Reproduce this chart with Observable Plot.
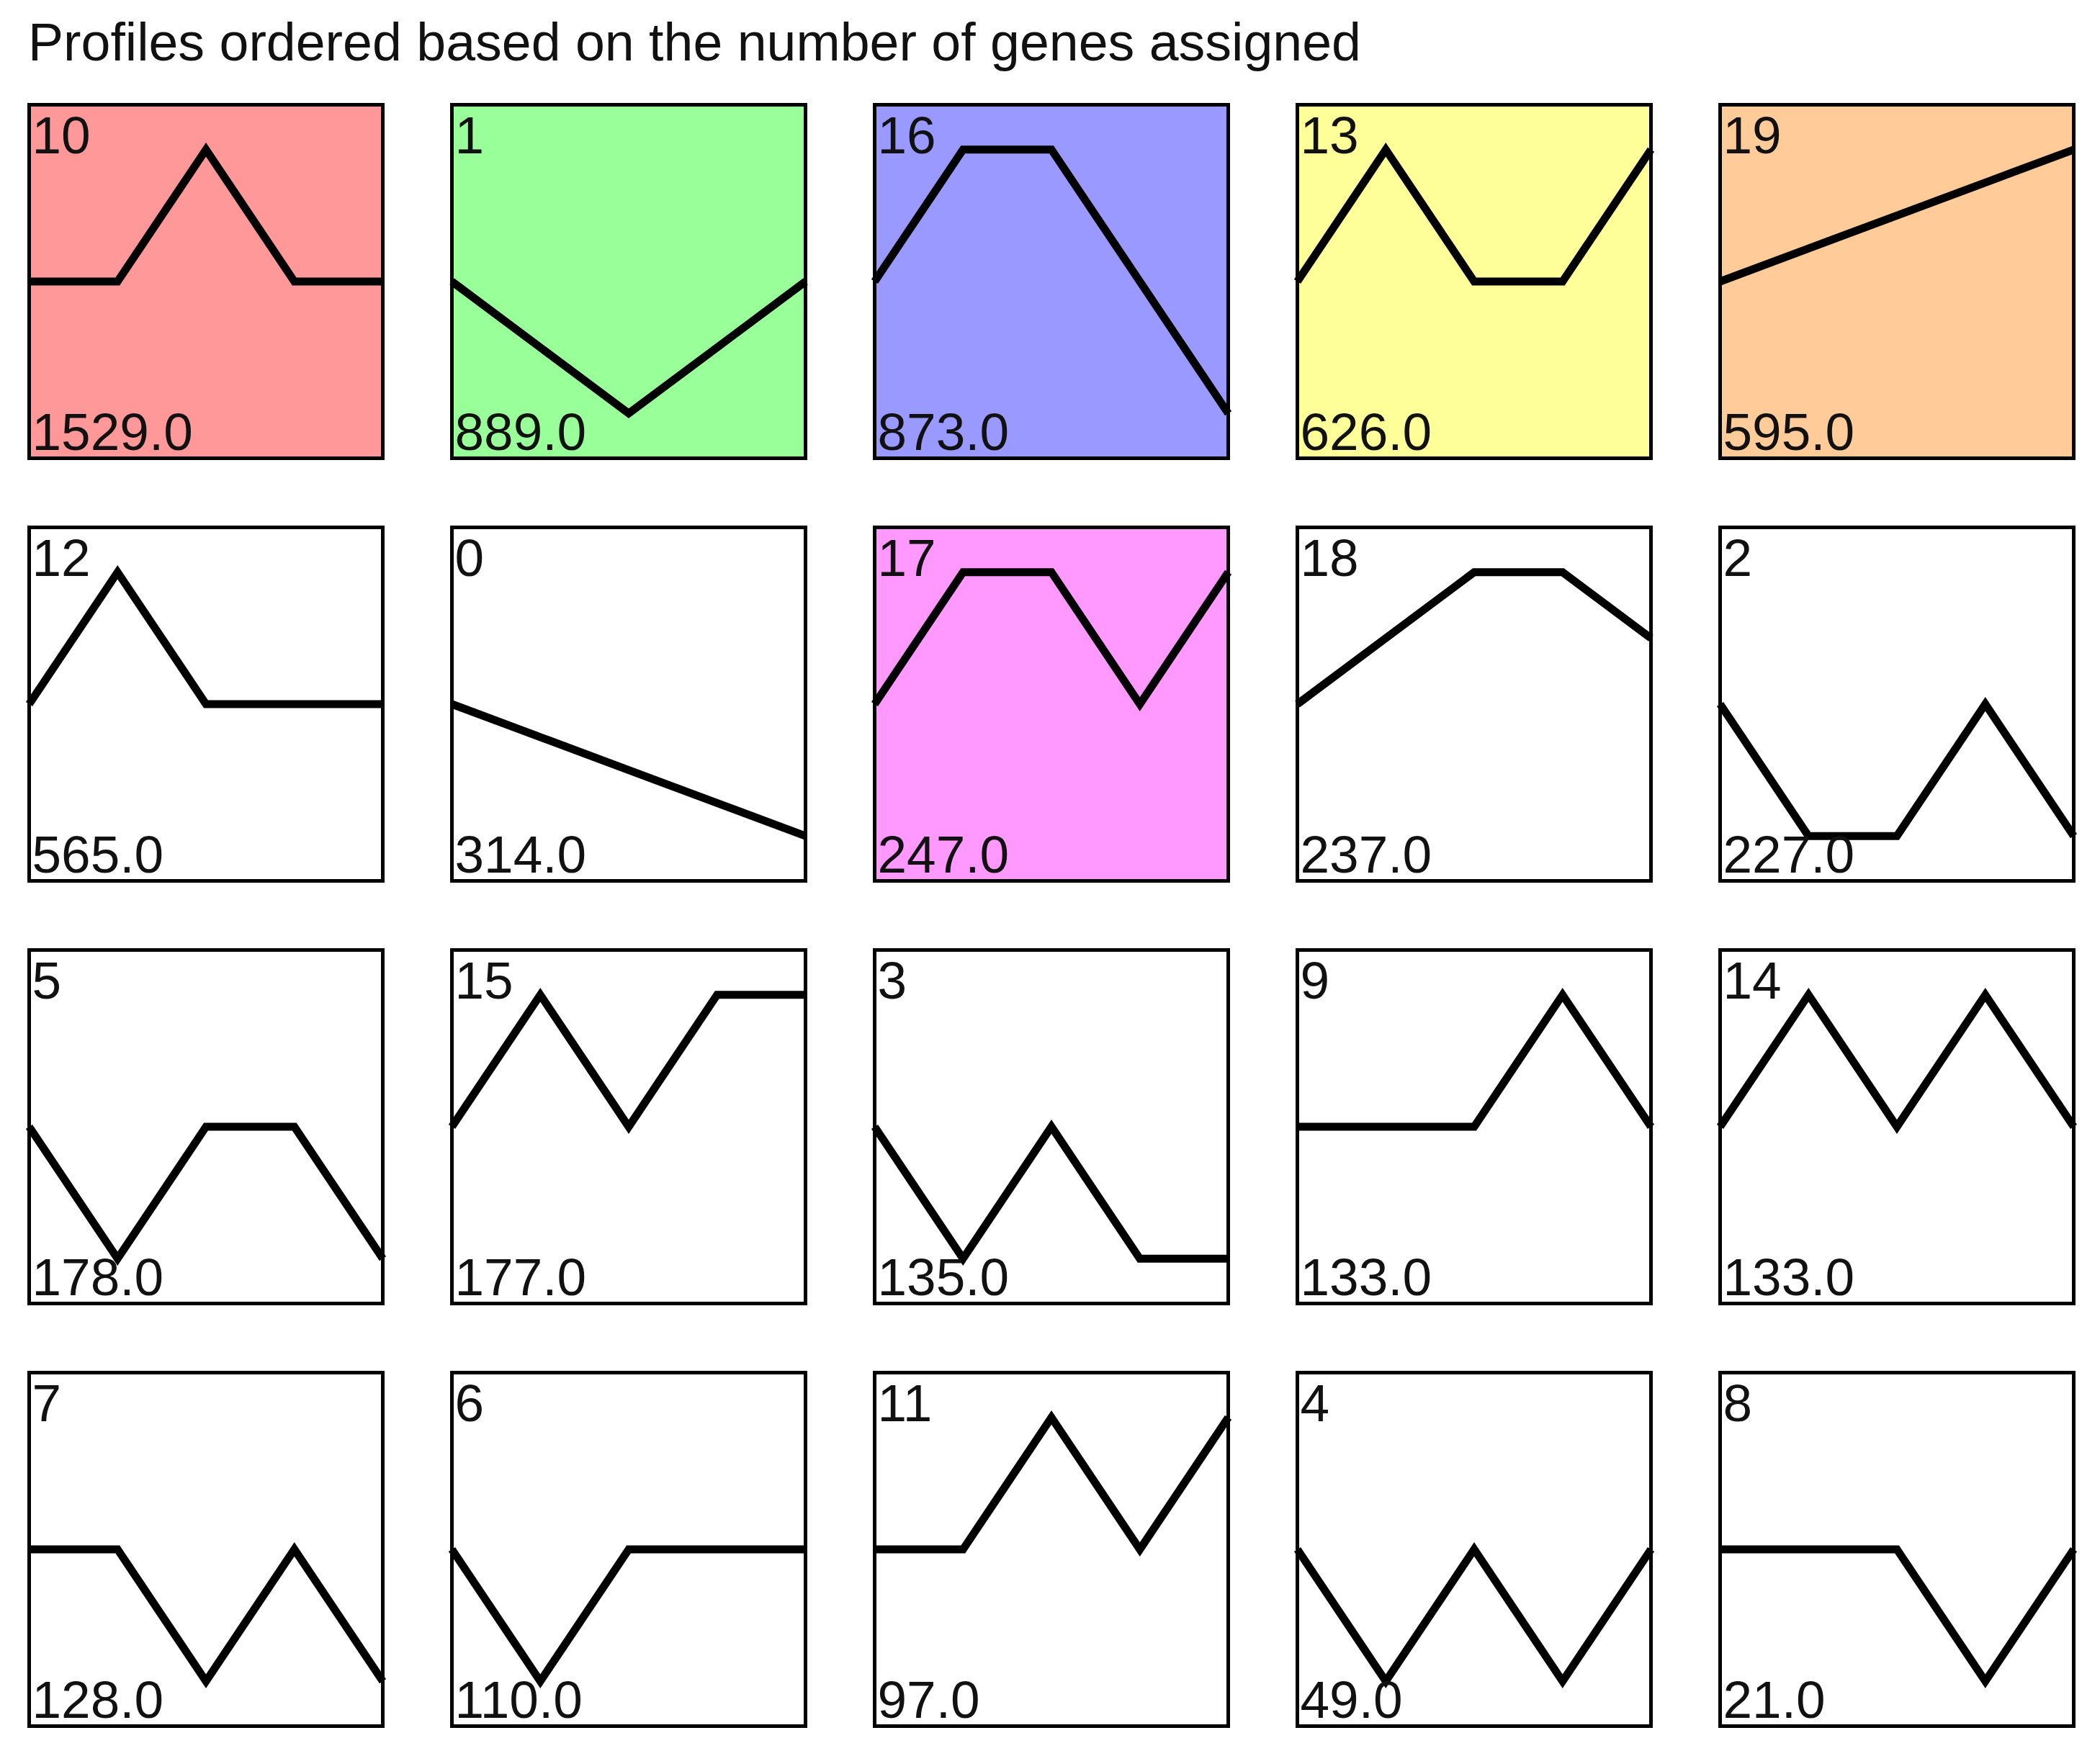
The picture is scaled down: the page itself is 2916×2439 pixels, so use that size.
<!DOCTYPE html>
<html>
<head>
<meta charset="utf-8">
<script src="https://cdn.jsdelivr.net/npm/d3@7"></script>
<script src="https://cdn.jsdelivr.net/npm/@observablehq/plot@0.6"></script>
<style>
  html, body { margin: 0; padding: 0; background: #fff; }
  #title {
    font-family: "Liberation Sans", Arial, sans-serif;
    font-size: 73.5px;
    line-height: 118px;
    height: 120px;
    padding-left: 39px;
    color: #111;
    white-space: nowrap;
  }
  #chart svg { display: block; }
</style>
</head>
<body>
<div id="title">Profiles ordered based on the number of genes assigned</div>
<div id="chart"></div>
<script>
// Profile ids in display order (row by row)
const profileIds = [10, 1, 16, 13, 19, 12, 0, 17, 18, 2, 5, 15, 3, 9, 14, 7, 6, 11, 4, 8];
// Number of genes assigned to each profile
const geneCounts = [1529, 889, 873, 626, 595, 565, 314, 247, 237, 227, 178, 177, 135, 133, 133, 128, 110, 97, 49, 21];
// Time points
const timePoints = [0, 1, 2, 3, 4];
// Profile values (normalised units) at each time point
const profileValues = [
  [0, 0, 2, 0, 0],
  [0, -1, -2, -1, 0],
  [0, 2, 2, 0, -2],
  [0, 2, 0, 0, 2],
  [0, 0.5, 1, 1.5, 2],
  [0, 2, 0, 0, 0],
  [0, -0.5, -1, -1.5, -2],
  [0, 2, 2, 0, 2],
  [0, 1, 2, 2, 1],
  [0, -2, -2, 0, -2],
  [0, -2, 0, 0, -2],
  [0, 2, 0, 2, 2],
  [0, -2, 0, -2, -2],
  [0, 0, 0, 2, 0],
  [0, 2, 0, 2, 0],
  [0, 0, -2, 0, -2],
  [0, -2, 0, 0, 0],
  [0, 0, 2, 0, 2],
  [0, -2, 0, -2, 0],
  [0, 0, 0, -2, 0]
];
// Background colour of each profile panel
const fillColors = [
  "#ff9999", "#99ff99", "#9999ff", "#ffff99", "#ffcc99",
  "#ffffff", "#ffffff", "#ff99ff", "#ffffff", "#ffffff",
  "#ffffff", "#ffffff", "#ffffff", "#ffffff", "#ffffff",
  "#ffffff", "#ffffff", "#ffffff", "#ffffff", "#ffffff"
];
const nCols = 5;
const yLim = 2.68;

const profiles = profileIds.map((id, i) => ({
  id,
  count: geneCounts[i],
  label: geneCounts[i].toFixed(1),
  fill: fillColors[i],
  col: i % nCols,
  row: Math.floor(i / nCols)
}));
const points = profiles.flatMap((p, i) =>
  timePoints.map((t, j) => ({id: p.id, col: p.col, row: p.row, t, v: profileValues[i][j]}))
);

const font = '"Liberation Sans", Arial, sans-serif';
const chart = Plot.plot({
  width: 2916,
  height: 2319,
  marginTop: 23,
  marginBottom: 41,
  marginLeft: 39,
  marginRight: 37,
  style: {fontFamily: font, background: "white"},
  fx: {axis: null, domain: [0, 1, 2, 3, 4], paddingInner: 0.1638, paddingOuter: 0},
  fy: {axis: null, domain: [0, 1, 2, 3], paddingInner: 0.1638, paddingOuter: 0},
  x: {axis: null, domain: [0, 4]},
  y: {axis: null, domain: [-yLim, yLim]},
  color: {type: "identity"},
  marks: [
    Plot.rect(profiles, {x1: 0, x2: 4, y1: -yLim, y2: yLim, fx: "col", fy: "row", fill: "fill"}),
    Plot.line(points, {
      x: "t", y: "v", z: "id", fx: "col", fy: "row",
      stroke: "black", strokeWidth: 11,
      strokeLinejoin: "miter", strokeLinecap: "butt", strokeMiterlimit: 10
    }),
    Plot.text(profiles, {
      fx: "col", fy: "row", text: (d) => String(d.id),
      frameAnchor: "top-left", textAnchor: "start", lineAnchor: "bottom",
      dx: 4, dy: 67, fontSize: 73, fill: "#111"
    }),
    Plot.text(profiles, {
      fx: "col", fy: "row", text: "label",
      frameAnchor: "bottom-left", textAnchor: "start", lineAnchor: "bottom",
      dx: 4, dy: -12, fontSize: 73, fill: "#111"
    }),
    Plot.frame({stroke: "black", strokeWidth: 5})
  ]
});
document.getElementById("chart").appendChild(chart);
</script>
</body>
</html>
